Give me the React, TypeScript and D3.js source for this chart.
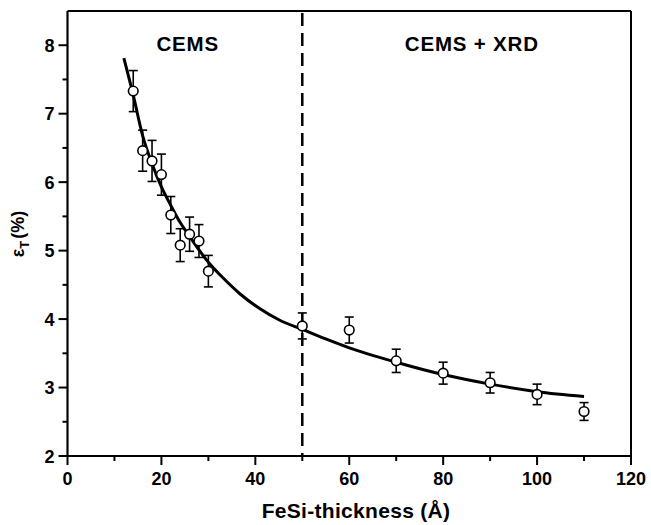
import React from "react";
import * as d3 from "d3";

const thickness = [14, 16, 18, 20, 22, 24, 26, 28, 30, 50, 60, 70, 80, 90, 100, 110];
const strain = [7.33, 6.46, 6.31, 6.11, 5.52, 5.08, 5.24, 5.14, 4.70, 3.90, 3.84, 3.39, 3.21, 3.07, 2.90, 2.65];
const strainErr = [0.3, 0.3, 0.3, 0.3, 0.27, 0.24, 0.25, 0.24, 0.23, 0.19, 0.19, 0.17, 0.16, 0.15, 0.15, 0.13];

const fitX = [12, 14, 16, 18, 20, 22, 24, 26, 28, 30, 33, 36.7, 41, 45, 50, 55, 60, 70, 80, 90, 100, 110];
const fitY = [7.81, 7.27, 6.68, 6.27, 5.93, 5.66, 5.41, 5.21, 5.01, 4.83, 4.61, 4.37, 4.15, 3.99, 3.85, 3.71, 3.58, 3.37, 3.19, 3.05, 2.94, 2.87];

const xMajor = [0, 20, 40, 60, 80, 100, 120];
const xMinor = [10, 30, 50, 70, 90, 110];
const yMajor = [2, 3, 4, 5, 6, 7, 8];
const yMinor = [2.5, 3.5, 4.5, 5.5, 6.5, 7.5];

const boundary = 50;
const regionLabels = ["CEMS", "CEMS + XRD"];
const regionLabelX = [25.6, 86.1];

const FONT = "'Liberation Sans', Arial, Helvetica, sans-serif";

export default function App() {
  const left = 67.5, right = 631, top = 11, bottom = 456;
  const x = d3.scaleLinear().domain([0, 120]).range([left, right]);
  const y = d3.scaleLinear().domain([2, 8.5]).range([bottom, top]);

  const fitPts: [number, number][] = fitX.map((v, i) => [v, fitY[i]]);
  const line = d3
    .line<[number, number]>()
    .x((d) => x(d[0]))
    .y((d) => y(d[1]))
    .curve(d3.curveMonotoneX);

  return (
    <svg
      width={651}
      height={525}
      style={{ position: "absolute", left: 0, top: 0, background: "#fff" }}
      fontFamily={FONT}
    >
      <rect x={0} y={0} width={651} height={525} fill="#fff" />
      {/* dashed boundary */}
      <line
        x1={x(boundary)}
        x2={x(boundary)}
        y1={top + 2}
        y2={bottom}
        stroke="#000"
        strokeWidth={2.5}
        strokeDasharray="13 7"
      />
      {/* fit curve */}
      <path d={line(fitPts) || ""} fill="none" stroke="#000" strokeWidth={3} />
      {/* error bars and points */}
      {thickness.map((t, i) => {
        const cx = x(t);
        const y1 = y(strain[i] + strainErr[i]);
        const y2 = y(strain[i] - strainErr[i]);
        return (
          <g key={i} stroke="#000" strokeWidth={1.6}>
            <line x1={cx} x2={cx} y1={y1} y2={y2} />
            <line x1={cx - 4.5} x2={cx + 4.5} y1={y1} y2={y1} />
            <line x1={cx - 4.5} x2={cx + 4.5} y1={y2} y2={y2} />
            <circle cx={cx} cy={y(strain[i])} r={4.8} fill="#fff" />
          </g>
        );
      })}
      {/* frame */}
      <line x1={left} x2={right} y1={top} y2={top} stroke="#000" strokeWidth={2} />
      <line x1={right} x2={right} y1={top} y2={bottom} stroke="#000" strokeWidth={2} />
      <line x1={left} x2={left} y1={top} y2={bottom + 1} stroke="#000" strokeWidth={2.2} />
      <line x1={left - 1} x2={right + 1} y1={bottom} y2={bottom} stroke="#000" strokeWidth={2.2} />
      {/* x ticks */}
      {xMajor.map((v) => (
        <g key={"xm" + v}>
          <line x1={x(v)} x2={x(v)} y1={bottom} y2={bottom + 9} stroke="#000" strokeWidth={2} />
          <text x={x(v)} y={bottom + 29} textAnchor="middle" fontSize={18} fontWeight="bold">
            {v}
          </text>
        </g>
      ))}
      {xMinor.map((v) => (
        <line key={"xn" + v} x1={x(v)} x2={x(v)} y1={bottom} y2={bottom + 5} stroke="#000" strokeWidth={2} />
      ))}
      {/* y ticks */}
      {yMajor.map((v) => (
        <g key={"ym" + v}>
          <line x1={left - 9} x2={left} y1={y(v)} y2={y(v)} stroke="#000" strokeWidth={2} />
          <text x={left - 13} y={y(v) + 6.5} textAnchor="end" fontSize={18} fontWeight="bold">
            {v}
          </text>
        </g>
      ))}
      {yMinor.map((v) => (
        <line key={"yn" + v} x1={left - 5} x2={left} y1={y(v)} y2={y(v)} stroke="#000" strokeWidth={2} />
      ))}
      {/* region labels */}
      {regionLabels.map((s, i) => (
        <text
          key={s}
          x={x(regionLabelX[i])}
          y={51}
          textAnchor="middle"
          fontSize={20.5}
          fontWeight="bold"
          letterSpacing={0.8}
        >
          {s}
        </text>
      ))}
      {/* axis titles */}
      <text x={356} y={518} textAnchor="middle" fontSize={21} fontWeight="bold" letterSpacing={0.3}>
        FeSi-thickness (Å)
      </text>
      <text transform="translate(24,234) rotate(-90)" textAnchor="middle" fontSize={18} fontWeight="bold">
        <tspan>ε</tspan>
        <tspan fontSize={13} dy={5}>T</tspan>
        <tspan dy={-5} dx={2}>(%)</tspan>
      </text>
    </svg>
  );
}
